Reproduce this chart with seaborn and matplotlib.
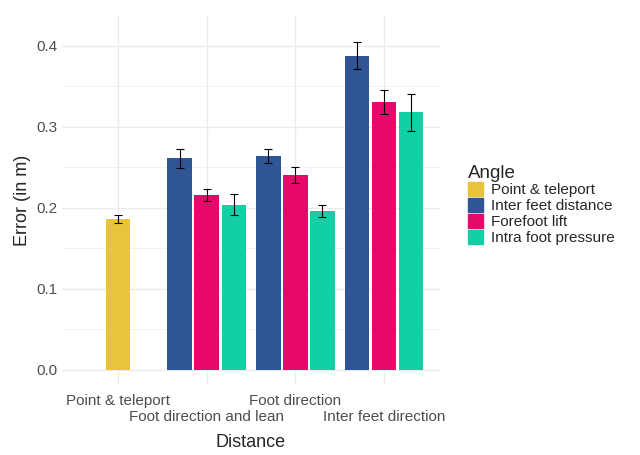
import numpy as np
import matplotlib
matplotlib.use("Agg")
import matplotlib.pyplot as plt
import seaborn as sns

distances = ["Point & teleport", "Foot direction and lean", "Foot direction", "Inter feet direction"]
angles = ["Point & teleport", "Inter feet distance", "Forefoot lift", "Intra foot pressure"]
colors = ["#E9C33A", "#2F5597", "#E6086A", "#13CFA5"]

# (distance index, angle index, mean, error)
dist_idx = [0, 1, 1, 1, 2, 2, 2, 3, 3, 3]
angle_idx = [0, 1, 2, 3, 1, 2, 3, 1, 2, 3]
means = [0.186, 0.261, 0.216, 0.204, 0.264, 0.241, 0.196, 0.388, 0.331, 0.318]
errs = [0.005, 0.012, 0.007, 0.013, 0.009, 0.010, 0.007, 0.017, 0.015, 0.023]

sns.set_theme(style="whitegrid")
plt.rcParams["font.family"] = ["Liberation Sans", "DejaVu Sans"]

fig = plt.figure(figsize=(6.4, 4.55), dpi=100)
ax = fig.add_axes([0.097, 0.154, 0.5905, 0.813])

step, width = 0.305, 0.275
for d in range(len(distances)):
    members = [i for i in range(len(means)) if dist_idx[i] == d]
    n = len(members)
    for k, i in enumerate(members):
        x = d + (k - (n - 1) / 2) * step
        ax.bar(x, means[i], width=width, color=colors[angle_idx[i]], linewidth=0)
        ax.errorbar(x, means[i], yerr=errs[i], color="black", capsize=3,
                    elinewidth=0.8, capthick=0.8)

ax.set_xlim(-0.63, 3.63)
ax.set_ylim(-0.0185, 0.438)
ax.set_yticks([0, 0.1, 0.2, 0.3, 0.4])
ax.set_yticklabels(["0.0", "0.1", "0.2", "0.3", "0.4"], color="#4d4d4d", fontsize=11)
ax.set_xticks(range(len(distances)))
ax.set_xticklabels(["" for _ in distances])
for d, lab in enumerate(distances):
    ax.text(d, -0.03 if d % 2 == 0 else -0.05, lab, ha="center", va="top",
            fontsize=11, color="#4d4d4d", transform=ax.transData)
ax.set_xlabel("Distance", fontsize=13, labelpad=32)
ax.set_ylabel("Error (in m)", fontsize=13)
for s in ax.spines.values():
    s.set_visible(False)
ax.grid(color="#ebebeb", linewidth=1)
ax.yaxis.grid(True, which="minor", color="#ebebeb", linewidth=0.5)
ax.set_yticks([0.05, 0.15, 0.25, 0.35], minor=True)
ax.tick_params(axis="both", length=0)

handles = [plt.Rectangle((0, 0), 1, 1, color=c) for c in colors]
leg = fig.legend(handles, angles, title="Angle", loc="center left",
                 bbox_to_anchor=(0.71, 0.55), frameon=False, fontsize=11,
                 title_fontsize=13.5, handlelength=1.0, handleheight=1.0,
                 labelspacing=0.05, handletextpad=0.5)
leg._legend_box.align = "left"

fig.savefig("out.png", dpi=100)
